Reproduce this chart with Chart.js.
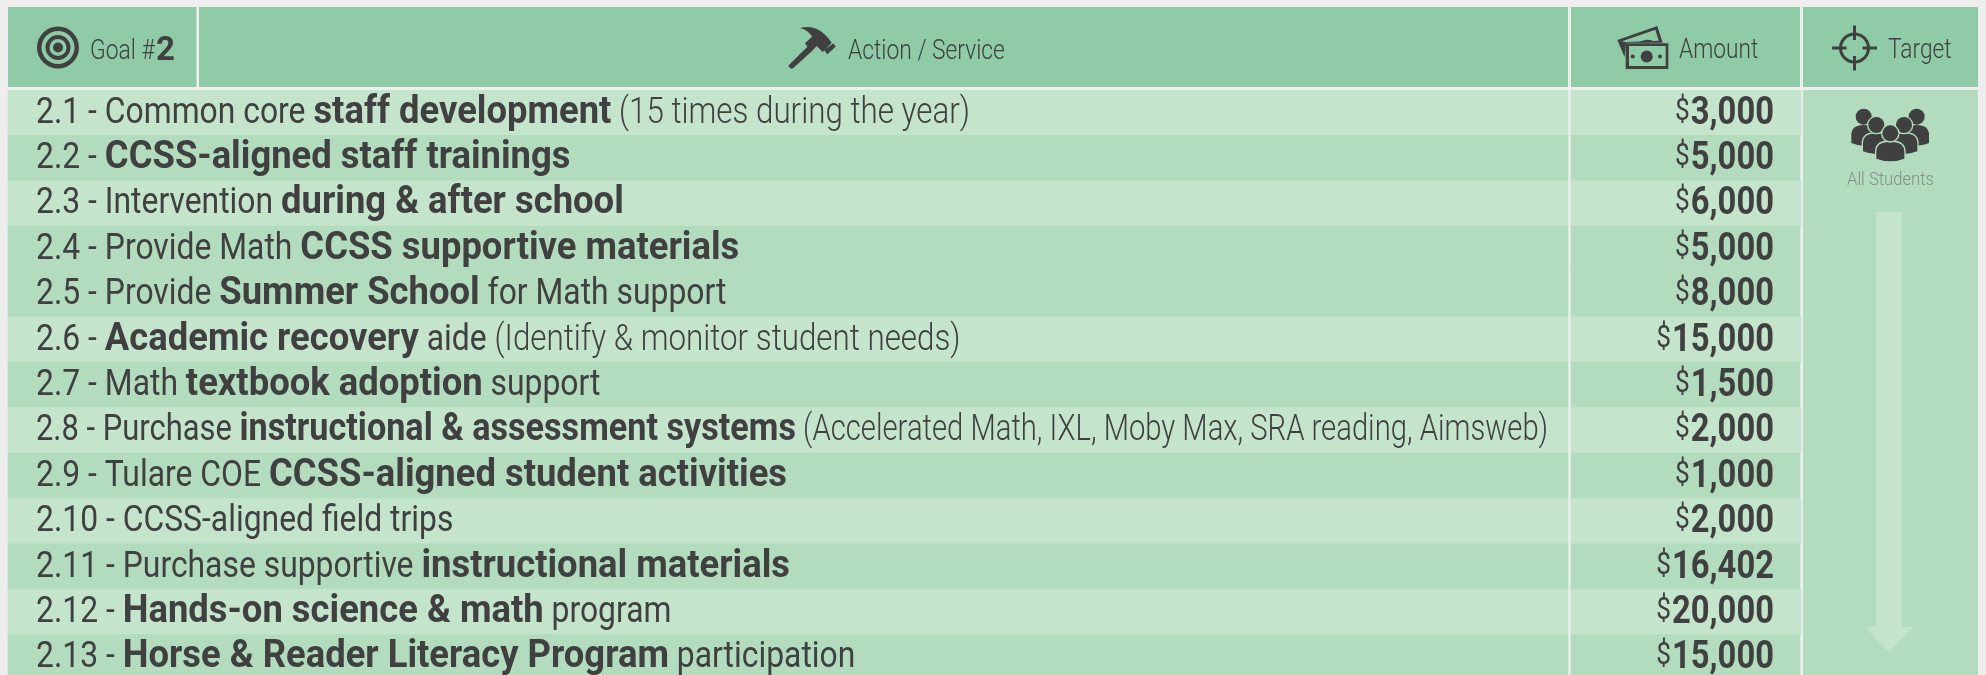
<!DOCTYPE html>
<html>
<head>
<meta charset="utf-8">
<title>Goal 2</title>
<script src="https://cdn.jsdelivr.net/npm/chart.js@4"></script>
<style>
html, body { margin: 0; padding: 0; background: #eeeeee; overflow: hidden; }
#wrap { width: 1986px; height: 675px; overflow: hidden; }
canvas { display: block; }
</style>
</head>
<body>
<div id="wrap"><canvas id="tabla" width="1986" height="680"></canvas></div>
<script>
// Datos de la tabla
const rowNumbers = ['2.1', '2.2', '2.3', '2.4', '2.5', '2.6', '2.7', '2.8', '2.9', '2.10', '2.11', '2.12', '2.13'];
const amounts = [3000, 5000, 6000, 5000, 8000, 15000, 1500, 2000, 1000, 2000, 16402, 20000, 15000];
// 2.4 y 2.5 comparten el mismo tono en el original
const rowLight = [true, false, true, false, false, true, false, true, false, true, false, true, false];
// l = light, b = bold, n = nota entre paréntesis
const rowParts = [
    [['Common core ', 'l'], ['staff development', 'b'], [' (15 times during the year)', 'n']],
    [['CCSS-aligned staff trainings', 'b']],
    [['Intervention ', 'l'], ['during & after school', 'b']],
    [['Provide Math ', 'l'], ['CCSS supportive materials', 'b']],
    [['Provide ', 'l'], ['Summer School', 'b'], [' for Math support', 'l']],
    [['Academic recovery', 'b'], [' aide ', 'l'], ['(Identify & monitor student needs)', 'n']],
    [['Math ', 'l'], ['textbook adoption', 'b'], [' support', 'l']],
    [['Purchase ', 'l'], ['instructional & assessment systems', 'b'], [' (Accelerated Math, IXL, Moby Max, SRA reading, Aimsweb)', 'n']],
    [['Tulare COE ', 'l'], ['CCSS-aligned student activities', 'b']],
    [['CCSS-aligned field trips', 'l']],
    [['Purchase supportive ', 'l'], ['instructional materials', 'b']],
    [['Hands-on science & math', 'b'], [' program', 'l']],
    [['Horse & Reader Literacy Program', 'b'], [' participation', 'l']]
];

const HEADER = '#8fcba6';
const LIGHT = '#c5e4cc';
const DARK = '#b2dcbd';
const INK = '#404040';
const FONT = 'Roboto, sans-serif';

// Columnas (eje x en píxeles de página)
const ACTION_LEFT = 8, ACTION_RIGHT = 1568, AMOUNT_LEFT = 1571, AMOUNT_RIGHT = 1800, TARGET_LEFT = 1803, TARGET_RIGHT = 1978;

// Estilo de cada tipo de texto: fuente y ancho (no hay Roboto Condensed instalada)
const partStyle = {
    l: { font: '400 36px ' + FONT, sx: 0.885 },
    b: { font: '700 38px ' + FONT, sx: 0.958 },
    n: { font: '300 36px ' + FONT, sx: 0.87 }
};
// La fila 2.8 va más apretada para que quepa en la celda
const ROW_8 = 7;
const row8Fit = { l: 0.97, b: 0.939, n: 0.933 };

function rowColor(ctx) {
    return rowLight[ctx.dataIndex] ? LIGHT : DARK;
}

function partScale(kind, i) {
    return partStyle[kind].sx * (i === ROW_8 ? row8Fit[kind] : 1);
}

function drawText(ctx, text, x, y, font, color, scaleX) {
    ctx.save();
    ctx.font = font;
    ctx.fillStyle = color;
    ctx.translate(x, y);
    ctx.scale(scaleX, 1);
    ctx.fillText(text, 0, 0);
    const w = ctx.measureText(text).width * scaleX;
    ctx.restore();
    return w;
}

function textWidth(ctx, text, font, scaleX) {
    ctx.save();
    ctx.font = font;
    const w = ctx.measureText(text).width * scaleX;
    ctx.restore();
    return w;
}

function svg(ctx, ox, oy, k, d, color) {
    ctx.save();
    ctx.translate(ox, oy);
    ctx.scale(k, k);
    ctx.fillStyle = color;
    ctx.fill(new Path2D(d));
    ctx.restore();
}

function drawGoalIcon(ctx) {
    [[21, INK], [16.5, HEADER], [12.5, INK], [8.5, HEADER], [5, INK]].forEach(([r, c]) => {
        ctx.fillStyle = c;
        ctx.beginPath();
        ctx.arc(58, 47.5, r, 0, Math.PI * 2);
        ctx.fill();
    });
}

function drawHammer(ctx) {
    svg(ctx, 750, 0, 1 / 3, 'M150 84 Q205 68 245 128 L218 156 L200 138 L187 152 L130 204 Q122 210 115 197 L172 140 L165 130 L186 110 Q175 90 150 84 Z', INK);
    svg(ctx, 750, 0, 1 / 3, 'M222 150 L250 130 L257 140 L232 163 Z', INK);
}

function drawMoney(ctx) {
    svg(ctx, 1500, 0, 1 / 3, 'M352 120 L472 78 L488 128 L378 128 L374 172 Z', INK);
    svg(ctx, 1500, 0, 1 / 3, 'M366 124 L466 89 L476 122 L376 126 Z', HEADER);
    svg(ctx, 1500, 0, 1 / 3, 'M415 128 Q440 112 466 126 Z', INK);
    svg(ctx, 1500, 0, 1 / 3, 'M377 130 L505 130 L505 207 L377 207 Z', INK);
    svg(ctx, 1500, 0, 1 / 3, 'M387 138 L497 138 L497 198 L387 198 Z', HEADER);
    ctx.fillStyle = INK;
    [[1646.7, 56.5, 6], [1632.7, 56.5, 2], [1660, 56.5, 2]].forEach(([x, y, r]) => {
        ctx.beginPath();
        ctx.arc(x, y, r, 0, Math.PI * 2);
        ctx.fill();
    });
}

function drawCrosshair(ctx) {
    const cx = 1854.5, cy = 48;
    ctx.strokeStyle = INK;
    ctx.lineWidth = 3;
    ctx.beginPath();
    ctx.arc(cx, cy, 14, 0, Math.PI * 2);
    ctx.stroke();
    ctx.beginPath();
    ctx.moveTo(cx - 22.5, cy); ctx.lineTo(cx - 8, cy);
    ctx.moveTo(cx + 8, cy); ctx.lineTo(cx + 22.5, cy);
    ctx.moveTo(cx, cy - 22.5); ctx.lineTo(cx, cy - 8);
    ctx.moveTo(cx, cy + 8); ctx.lineTo(cx, cy + 22.5);
    ctx.stroke();
}

function drawPerson(ctx, hx, hy, hr, w, top, bottom, outline) {
    ctx.save();
    ctx.translate(1820, 90);
    ctx.scale(1 / 3, 1 / 3);
    ctx.beginPath();
    ctx.moveTo(hx - w, bottom - 6);
    ctx.lineTo(hx - w, top + 30);
    ctx.quadraticCurveTo(hx - w, top, hx, top);
    ctx.quadraticCurveTo(hx + w, top, hx + w, top + 30);
    ctx.lineTo(hx + w, bottom - 6);
    ctx.quadraticCurveTo(hx, bottom + 10, hx - w, bottom - 6);
    ctx.closePath();
    if (outline) {
        ctx.strokeStyle = DARK;
        ctx.lineWidth = 8;
        ctx.stroke();
    }
    ctx.fillStyle = INK;
    ctx.fill();
    ctx.beginPath();
    ctx.arc(hx, hy, hr, 0, Math.PI * 2);
    if (outline) {
        ctx.strokeStyle = DARK;
        ctx.lineWidth = 8;
        ctx.stroke();
    }
    ctx.fill();
    ctx.restore();
}

// Encabezado, panel de la última columna e iconos
const headerPlugin = {
    id: 'header',
    beforeDatasetsDraw(chart) {
        const ctx = chart.ctx;
        ctx.save();
        ctx.fillStyle = HEADER;
        ctx.fillRect(ACTION_LEFT, 7, 188.5, 80);
        ctx.fillRect(199, 7, ACTION_RIGHT - 199, 80);
        ctx.fillRect(AMOUNT_LEFT, 7, AMOUNT_RIGHT - AMOUNT_LEFT, 80);
        ctx.fillRect(TARGET_LEFT, 7, TARGET_RIGHT - TARGET_LEFT, 80);
        ctx.fillStyle = DARK;
        ctx.fillRect(TARGET_LEFT, 90, TARGET_RIGHT - TARGET_LEFT, chart.height - 90);
        ctx.restore();
    },
    afterDatasetsDraw(chart) {
        const ctx = chart.ctx;
        drawGoalIcon(ctx);
        drawHammer(ctx);
        drawMoney(ctx);
        drawCrosshair(ctx);
        const w = drawText(ctx, 'Goal #', 90, 59, '300 27px ' + FONT, INK, 0.85);
        drawText(ctx, '2', 90 + w + 1, 60, '700 33px ' + FONT, INK, 1);
        drawText(ctx, 'Action / Service', 848, 59, '300 28px ' + FONT, INK, 0.815);
        drawText(ctx, 'Amount', 1679, 58, '300 28px ' + FONT, INK, 0.81);
        drawText(ctx, 'Target', 1888, 58, '300 28px ' + FONT, INK, 0.81);

        // Gente
        drawPerson(ctx, 131, 80, 24, 37, 105, 165, false);
        drawPerson(ctx, 290, 80, 24, 37, 105, 165, false);
        drawPerson(ctx, 169, 105, 24, 40, 130, 190, true);
        drawPerson(ctx, 252, 105, 24, 40, 130, 190, true);
        drawPerson(ctx, 211, 130, 24, 42, 155, 212, true);
        drawText(ctx, 'All Students', 1847, 185, '300 19px ' + FONT, '#858f8a', 0.875);

        // Flecha
        ctx.fillStyle = LIGHT;
        ctx.beginPath();
        ctx.moveTo(1876, 212);
        ctx.lineTo(1902, 212);
        ctx.lineTo(1902, 627);
        ctx.lineTo(1913, 627);
        ctx.lineTo(1889, 652);
        ctx.lineTo(1865, 627);
        ctx.lineTo(1876, 627);
        ctx.closePath();
        ctx.fill();

        // Texto de cada fila
        const yScale = chart.scales.y;
        rowNumbers.forEach((num, i) => {
            const base = yScale.getPixelForValue(i) + 10;
            let x = 36;
            x += drawText(ctx, num + ' - ', x, base, partStyle.l.font, INK, partScale('l', i));
            rowParts[i].forEach(([text, kind]) => {
                x += drawText(ctx, text, x, base, partStyle[kind].font, INK, partScale(kind, i));
            });
            const amount = amounts[i].toLocaleString('en-US');
            const dw = textWidth(ctx, amount, '700 39px ' + FONT, 0.84);
            drawText(ctx, amount, 1774 - dw, base + 1, '700 39px ' + FONT, INK, 0.84);
            const sw = textWidth(ctx, '$', '400 32px ' + FONT, 0.82);
            drawText(ctx, '$', 1774 - dw - sw - 1, base - 3, '400 32px ' + FONT, INK, 0.82);
        });
    }
};

new Chart(document.getElementById('tabla'), {
    type: 'bar',
    data: {
        labels: rowNumbers,
        datasets: [{
            label: 'Action / Service',
            data: rowNumbers.map(() => [ACTION_LEFT, ACTION_RIGHT]),
            backgroundColor: rowColor,
            grouped: false,
            barPercentage: 1,
            categoryPercentage: 1
        }, {
            label: 'Amount',
            data: rowLight.map(l => [AMOUNT_LEFT, l ? AMOUNT_RIGHT + 1 : AMOUNT_RIGHT]),
            backgroundColor: rowColor,
            grouped: false,
            barPercentage: 1,
            categoryPercentage: 1
        }]
    },
    options: {
        indexAxis: 'y',
        responsive: false,
        animation: false,
        layout: { padding: { top: 90, left: 0, right: 0, bottom: 0 } },
        scales: {
            x: { type: 'linear', min: 0, max: 1986, display: false },
            y: { display: false }
        },
        plugins: {
            legend: { display: false },
            title: { display: false },
            tooltip: { enabled: false }
        }
    },
    plugins: [headerPlugin]
});
</script>
</body>
</html>
